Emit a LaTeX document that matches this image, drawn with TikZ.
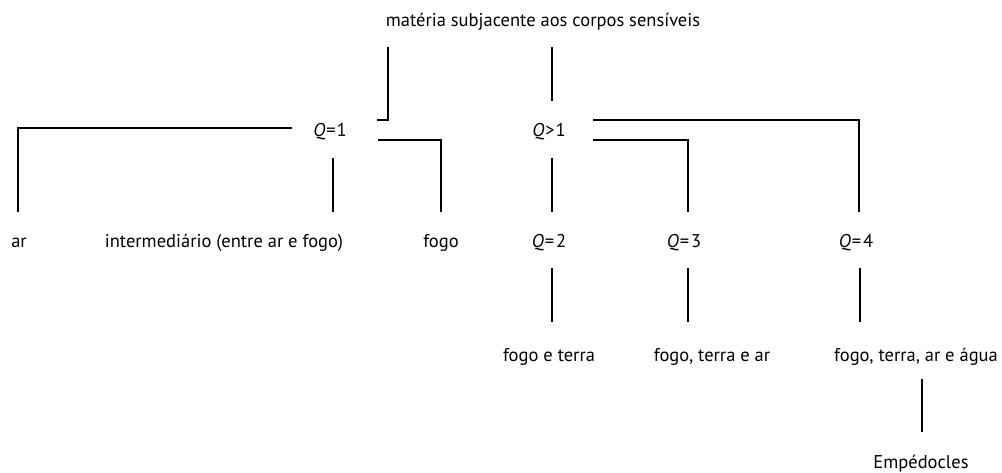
\documentclass[tikz,border=0pt]{standalone}
\usepackage{fontspec}
\setmainfont{PT Sans}
\begin{document}
\begin{tikzpicture}[x=1pt,y=-1pt,
  lbl/.style={inner sep=0pt,anchor=base,font=\fontsize{18.5}{22}\selectfont},
  ln/.style={line width=1.3pt,line cap=butt}]
\useasboundingbox (0,0) rectangle (1002,473);
% texts
\node[lbl] (top) at (543,27) {matéria subjacente aos corpos sensíveis};
\node[lbl] (q1) at (330,137) {\textit{Q}\kern1pt=\kern1pt1};
\node[lbl] (qg) at (549,137) {\textit{Q}\kern1pt>\kern1pt1};
\node[lbl] (ar) at (19,248) {ar};
\node[lbl] (inter) at (224,248) {intermediário (entre ar e fogo)};
\node[lbl] (fogo) at (441,248) {fogo};
\node[lbl] (q2) at (549,248) {\textit{Q}\kern1pt=\kern2pt2};
\node[lbl] (q3) at (684,248) {\textit{Q}\kern1pt=\kern2pt3};
\node[lbl] (q4) at (856,248) {\textit{Q}\kern1pt=\kern2pt4};
\node[lbl] (ft) at (549,361) {fogo e terra};
\node[lbl] (fta) at (712,361) {fogo, terra e ar};
\node[lbl] (ftaa) at (916,361) {fogo, terra, ar e água};
\node[lbl] (emp) at (921,468) {Empédocles};
% connectors
\coordinate (a1) at (388,47);
\coordinate (a2) at (377,120);
\draw[ln] (a1) |- (a2);
\coordinate (b1) at (552,47);
\coordinate (b2) at (552,101);
\draw[ln] (b1) -- (b2);
\coordinate (c1) at (292,128);
\coordinate (c2) at (18,212);
\draw[ln] (c1) -| (c2);
\coordinate (d1) at (333,158);
\coordinate (d2) at (333,212);
\draw[ln] (d1) -- (d2);
\coordinate (e1) at (378,140);
\coordinate (e2) at (441,212);
\draw[ln] (e1) -| (e2);
\coordinate (f1) at (593,120);
\coordinate (f2) at (859,212);
\draw[ln] (f1) -| (f2);
\coordinate (g1) at (593,140);
\coordinate (g2) at (688,212);
\draw[ln] (g1) -| (g2);
\coordinate (h1) at (552,158);
\coordinate (h2) at (552,212);
\draw[ln] (h1) -- (h2);
\coordinate (i1) at (552,268);
\coordinate (i2) at (552,322);
\draw[ln] (i1) -- (i2);
\coordinate (j1) at (688,268);
\coordinate (j2) at (688,322);
\draw[ln] (j1) -- (j2);
\coordinate (k1) at (860,268);
\coordinate (k2) at (860,322);
\draw[ln] (k1) -- (k2);
\coordinate (l1) at (922,379);
\coordinate (l2) at (922,432);
\draw[ln] (l1) -- (l2);
\end{tikzpicture}
\end{document}
